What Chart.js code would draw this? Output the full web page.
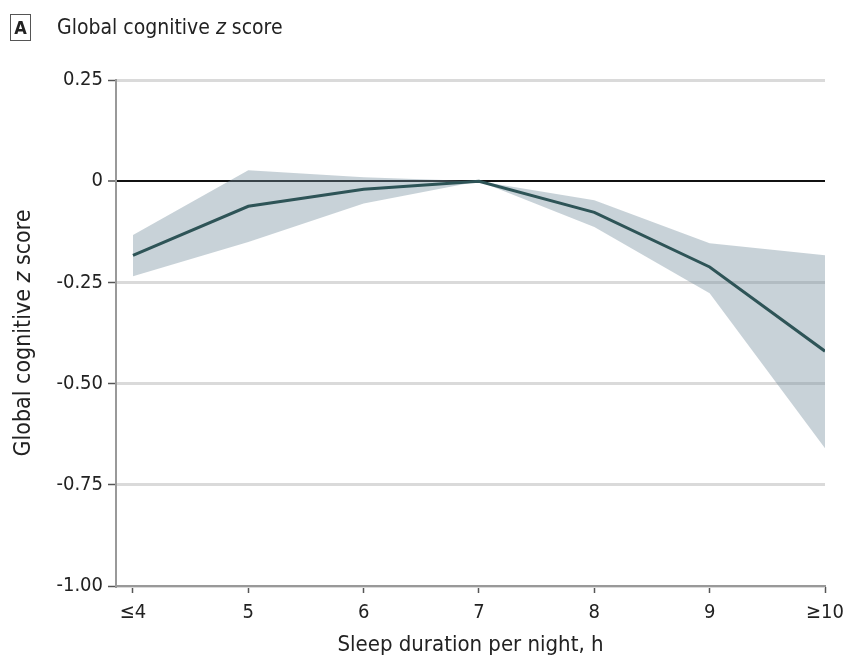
<!DOCTYPE html>
<html>
<head>
<meta charset="utf-8">
<script src="https://cdn.jsdelivr.net/npm/chart.js@4/dist/chart.umd.min.js"></script>
<style>
  body { margin: 0; background: #fff; }
  #wrap { position: relative; width: 845px; height: 662px; font-family: "DejaVu Sans Condensed", "Liberation Sans Narrow", "Open Sans", sans-serif; color: #222; }
  #panel { position: absolute; left: 10px; top: 14px; width: 19px; height: 25px; border: 1.5px solid #555; font-size: 18px; font-weight: bold; line-height: 25px; text-align: center; }
  #title { position: absolute; left: 57px; top: 14px; font-size: 21px; line-height: 27px; }
  canvas { position: absolute; left: 0; top: 0; }
</style>
</head>
<body>
<div id="wrap">
  <canvas id="sleep-chart" width="845" height="662"></canvas>
  <div id="panel">A</div>
  <div id="title">Global cognitive <i>z</i> score</div>
</div>
<script>
const hours = [4, 5, 6, 7, 8, 9, 10];
const hourLabels = ['≤4', '5', '6', '7', '8', '9', '≥10'];
const zScore = [-0.183, -0.062, -0.02, 0, -0.077, -0.212, -0.42];
const upperCI = [-0.133, 0.027, 0.01, 0, -0.047, -0.153, -0.183];
const lowerCI = [-0.235, -0.15, -0.055, 0, -0.113, -0.277, -0.66];
const yTicks = [0.25, 0, -0.25, -0.5, -0.75, -1];

const fontFamily = '"DejaVu Sans Condensed", "Liberation Sans Narrow", "Open Sans", sans-serif';

function toPoints(values) {
    return hours.map((h, i) => ({ x: h, y: values[i] }));
}

// y axis title, drawn by hand so the z can be italic
const yTitlePlugin = {
    id: 'yTitle',
    afterDraw(chart) {
        const ctx = chart.ctx;
        const area = chart.chartArea;
        const parts = [['normal', 'Global cognitive '], ['italic', 'z'], ['normal', ' score']];
        ctx.save();
        ctx.translate(24, (area.top + area.bottom) / 2);
        ctx.rotate(-Math.PI / 2);
        ctx.fillStyle = '#222';
        ctx.textBaseline = 'middle';
        let total = 0;
        parts.forEach(p => {
            ctx.font = p[0] + ' 23px ' + fontFamily;
            total += ctx.measureText(p[1]).width;
        });
        let x = -total / 2;
        parts.forEach(p => {
            ctx.font = p[0] + ' 23px ' + fontFamily;
            ctx.fillText(p[1], x, 0);
            x += ctx.measureText(p[1]).width;
        });
        ctx.restore();
    }
};

const isZero = v => Math.abs(v) < 1e-9;

new Chart(document.getElementById('sleep-chart').getContext('2d'), {
    type: 'line',
    data: {
        datasets: [
            {
                data: toPoints(zScore),
                borderColor: '#2e5457',
                borderWidth: 3,
                pointRadius: 0,
                fill: false,
                order: 0
            },
            {
                data: toPoints(upperCI),
                borderWidth: 0,
                borderColor: 'rgba(0,0,0,0)',
                backgroundColor: 'rgba(118, 142, 158, 0.4)',
                pointRadius: 0,
                fill: '+1',
                order: 1
            },
            {
                data: toPoints(lowerCI),
                borderWidth: 0,
                borderColor: 'rgba(0,0,0,0)',
                pointRadius: 0,
                fill: false,
                order: 2
            }
        ]
    },
    options: {
        responsive: false,
        animation: false,
        layout: { padding: { top: 80, right: 20, left: 0, bottom: 0 } },
        plugins: { legend: { display: false }, tooltip: { enabled: false } },
        scales: {
            x: {
                type: 'linear',
                min: 3.853,
                max: 10,
                afterBuildTicks: scale => { scale.ticks = hours.map(v => ({ value: v })); },
                afterFit: scale => {
                    scale.height = 76;
                    scale.paddingLeft = 0;
                    scale.paddingRight = 0;
                },
                border: { color: '#999', width: 2 },
                grid: { drawOnChartArea: false, drawTicks: true, tickLength: 7, tickColor: '#555', tickWidth: 1.5 },
                ticks: {
                    padding: 8,
                    color: '#222',
                    font: { family: fontFamily, size: 20 },
                    callback: v => hourLabels[hours.indexOf(v)]
                },
                title: {
                    display: true,
                    text: 'Sleep duration per night, h',
                    color: '#222',
                    font: { family: fontFamily, size: 22 },
                    padding: { top: 0, bottom: 4 }
                }
            },
            y: {
                min: -1,
                max: 0.25,
                afterBuildTicks: scale => { scale.ticks = yTicks.map(v => ({ value: v })); },
                afterFit: scale => { scale.width = 116; },
                border: { color: '#999', width: 2 },
                grid: {
                    color: c => isZero(c.tick.value) ? '#111' : '#dadada',
                    lineWidth: c => isZero(c.tick.value) ? 2 : 3,
                    tickLength: 8,
                    tickColor: '#555',
                    tickWidth: 1.5
                },
                ticks: {
                    padding: 5,
                    color: '#222',
                    font: { family: fontFamily, size: 20 },
                    callback: v => isZero(v) ? '0' : v.toFixed(2)
                }
            }
        }
    },
    plugins: [yTitlePlugin]
});
</script>
</body>
</html>
